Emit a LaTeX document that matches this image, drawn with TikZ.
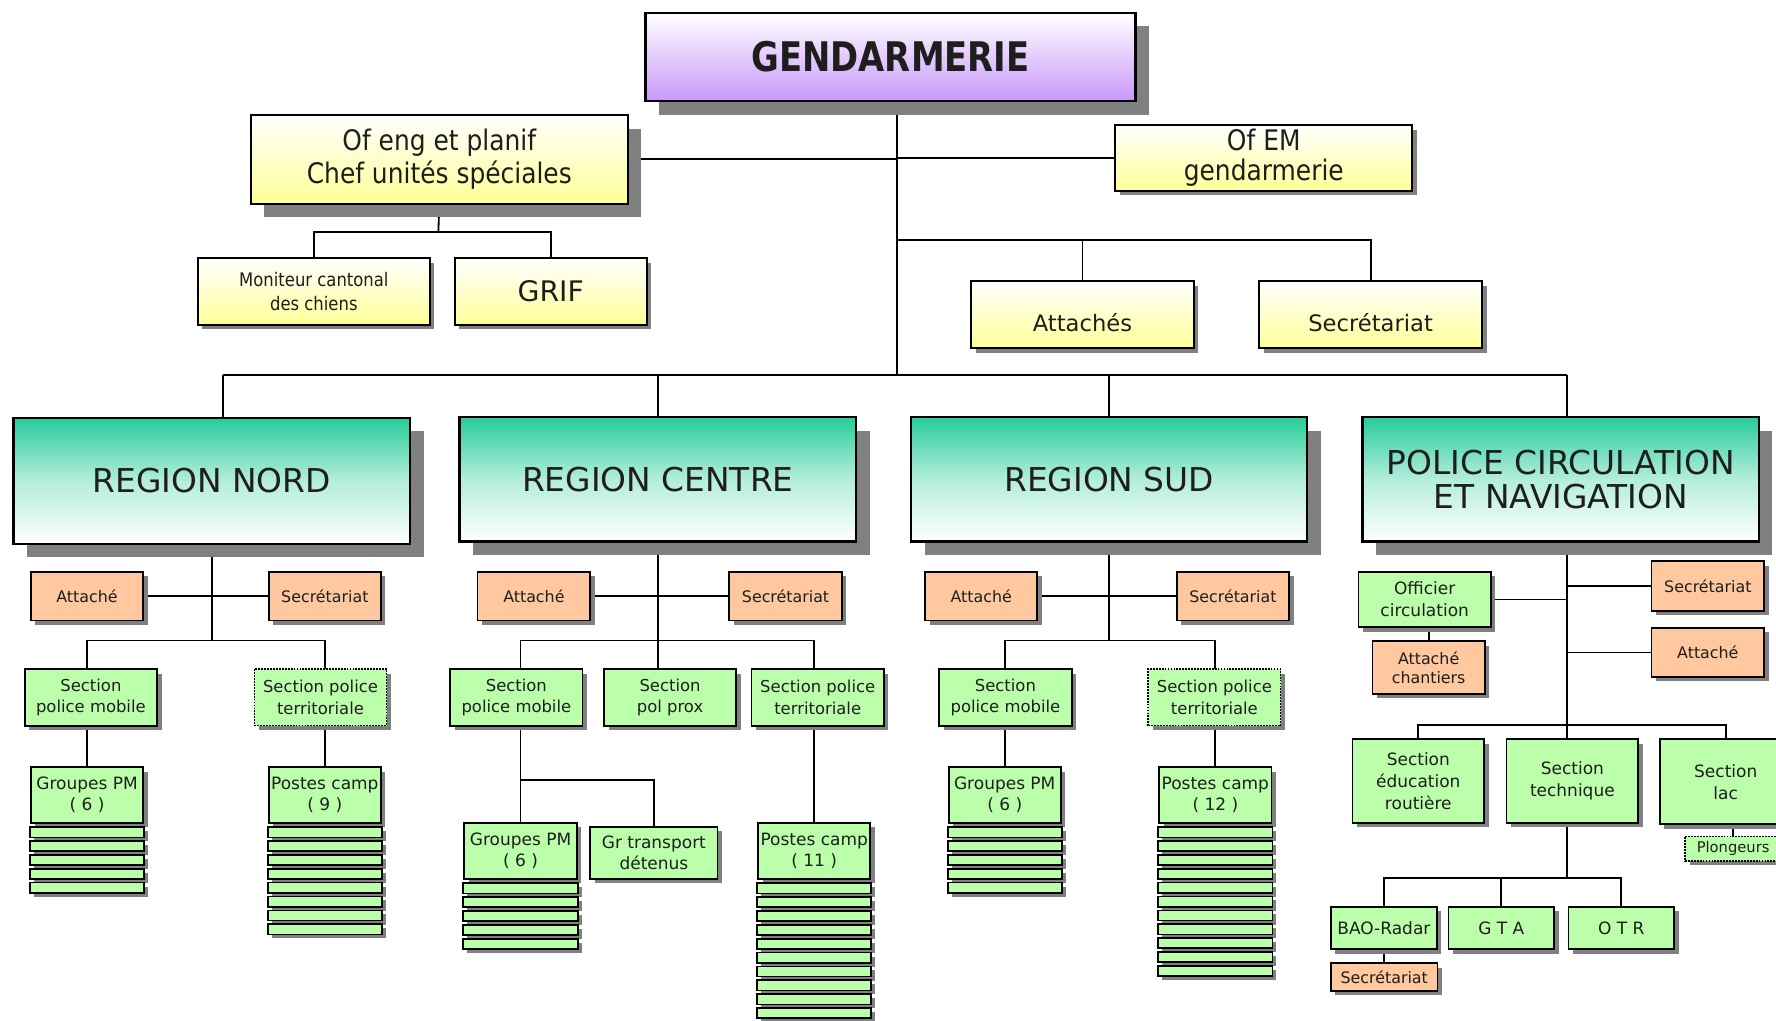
\documentclass[tikz,border=0pt]{standalone}
\usepackage{fontspec}
\setmainfont{DejaVu Sans}
\newfontfamily\condf[FakeStretch=0.88]{DejaVu Sans}
\newfontfamily\gendf[FakeStretch=0.83]{DejaVu Sans}
\usetikzlibrary{shadows,calc}
\pgfdeclarelayer{bg}
\pgfsetlayers{bg,main}
\definecolor{lav}{RGB}{200,152,250}
\definecolor{yel}{RGB}{255,255,150}
\definecolor{tealc}{RGB}{38,204,154}
\definecolor{peach}{RGB}{255,200,158}
\definecolor{grn}{RGB}{188,255,170}
\definecolor{shad}{RGB}{128,128,128}
\definecolor{ink}{RGB}{30,30,30}
\newcommand\bx[7]{\node[#1,anchor=north west,minimum width={#4pt-#2pt},minimum height={#5pt-#3pt}] (#6) at (#2,#3) {#7};}
\newcommand\stk[2]{%
  \foreach \i in {1,...,#2}{%
    \fill[shad] ($(#1.south west)+(3.5,{(\i-1)*12.24+6.7})$) rectangle ($(#1.south east)+(3.5,{(\i-1)*12.24+15.7})$);
    \draw[fill=grn,line width=1.5pt] ($(#1.south west)+(0,{(\i-1)*12.24+3.2})$) rectangle ($(#1.south east)+(0,{(\i-1)*12.24+12.2})$);
  }}
\newcommand\low[1]{\raisebox{-7pt}[\height][\depth]{#1}}
\tikzset{
  base/.style={draw, line width=1.8pt, inner sep=0pt, align=center, text=ink},
  bigsh/.style={drop shadow={shadow xshift=12pt, shadow yshift=-12pt, fill=shad, opacity=1}},
  smsh/.style={drop shadow={shadow xshift=4pt, shadow yshift=-4pt, fill=shad, opacity=1}},
  gendbox/.style={base, bigsh, top color=white, bottom color=lav, line width=2pt, font=\gendf\bfseries\fontsize{36}{40}\selectfont},
  ybig/.style={base, bigsh, top color=white, bottom color=yel, font=\condf\fontsize{25}{29.5}\selectfont},
  ybox/.style={base, smsh, top color=white, bottom color=yel},
  region/.style={base, bigsh, top color=tealc, bottom color=white, middle color=tealc!35!white, line width=2.2pt, font=\fontsize{29}{30}\selectfont},
  pbox/.style={base, smsh, fill=peach, line width=1.6pt, font=\fontsize{14}{17}\selectfont},
  gbox/.style={base, smsh, fill=grn, line width=1.6pt, font=\fontsize{14.5}{19}\selectfont},
  gdot/.style={gbox, densely dotted, line width=1.3pt},
  conn/.style={line width=1.6pt, draw=black},
}
\begin{document}
\begin{tikzpicture}[x=1pt,y=-1pt]
\useasboundingbox (0,0) rectangle (1568,901);
\clip (0,0) rectangle (1568,901);
% top level
\bx{gendbox}{569}{10.3}{1001.4}{88.3}{gend}{GENDARMERIE}
\bx{ybig}{220.5}{100.6}{553.4}{179}{ofeng}{Of eng et planif\\Chef unités spéciales}
\bx{ybox,font=\condf\fontsize{25}{26.6}\selectfont}{983.7}{109.5}{1246}{167.7}{ofem}{Of EM\\gendarmerie}
\bx{ybox,font=\condf\fontsize{16.5}{20.6}\selectfont}{173.8}{227.2}{378.6}{286}{monit}{Moniteur cantonal\\des chiens}
\bx{ybox,font=\fontsize{25}{28}\selectfont}{400.4}{227.2}{570.2}{286}{grif}{GRIF}
\bx{ybox,font=\fontsize{20}{24}\selectfont}{856.6}{247.2}{1052.9}{306.6}{att0}{\low{Attachés}}
\bx{ybox,font=\fontsize{20}{24}\selectfont}{1110.9}{247.2}{1307.5}{306.6}{sec0}{\low{Secrétariat}}
% regions
\bx{region}{10.8}{367.8}{360.8}{479}{rn}{REGION NORD}
\bx{region}{404.6}{367}{754.8}{477}{rc}{REGION CENTRE}
\bx{region}{803.4}{367}{1153}{477}{rs}{REGION SUD}
\bx{region}{1202}{367}{1551.7}{477}{pcn}{POLICE CIRCULATION\\ET NAVIGATION}
% nord
\bx{pbox}{26.4}{504}{125.7}{547}{natt}{Attaché}
\bx{pbox}{236.5}{504}{335.5}{547}{nsec}{Secrétariat}
\bx{gbox}{21}{590}{137.9}{640}{nspm}{Section\\police mobile}
\bx{gdot}{224}{590}{340.6}{640}{nspt}{Section police\\territoriale}
\bx{gbox,font=\fontsize{15}{19}\selectfont}{26.4}{676.5}{125.7}{725.5}{ngpm}{Groupes PM\\( 6 )}
\bx{gbox,font=\fontsize{15}{19}\selectfont}{236.5}{676.5}{335.5}{725.5}{npc}{Postes camp\\( 9 )}
\stk{ngpm}{5}
\stk{npc}{8}
% centre
\bx{pbox}{420.8}{504}{520.3}{547}{catt}{Attaché}
\bx{pbox}{643}{504}{742.5}{547}{csec}{Secrétariat}
\bx{gbox}{396.7}{590}{513.5}{640}{cspm}{Section\\police mobile}
\bx{gbox}{532.5}{590}{649}{640}{cpp}{Section\\pol prox}
\bx{gbox}{662.7}{590}{779.6}{640}{cspt}{Section police\\territoriale}
\bx{gbox,font=\fontsize{15}{19}\selectfont}{409}{725.7}{508.5}{775}{cgpm}{Groupes PM\\( 6 )}
\bx{gbox,font=\fontsize{15}{19}\selectfont}{520.3}{729}{632.7}{775}{cgt}{Gr transport\\détenus}
\bx{gbox,font=\fontsize{15}{19}\selectfont}{668.6}{725.7}{767.5}{775}{cpc}{Postes camp\\( 11 )}
\stk{cgpm}{5}
\stk{cpc}{10}
% sud
\bx{pbox}{816}{504}{915}{547}{satt}{Attaché}
\bx{pbox}{1038}{504}{1137.4}{547}{ssec}{Secrétariat}
\bx{gbox}{828.4}{590}{945.3}{640}{sspm}{Section\\police mobile}
\bx{gdot}{1013}{590}{1130}{640}{sspt}{Section police\\territoriale}
\bx{gbox,font=\fontsize{15}{19}\selectfont}{836.7}{676.5}{935.8}{725.5}{sgpm}{Groupes PM\\( 6 )}
\bx{gbox,font=\fontsize{15}{19}\selectfont}{1022.6}{676.5}{1121.8}{725.5}{spc}{Postes camp\\( 12 )}
\stk{sgpm}{5}
\stk{spc}{11}
% police circulation
\bx{gbox,font=\fontsize{15}{19.5}\selectfont}{1198.6}{504}{1315.4}{553}{poc}{Officier\\circulation}
\bx{pbox}{1211}{565.4}{1310}{611.8}{pac}{Attaché\\chantiers}
\bx{pbox}{1457.3}{494.8}{1556.7}{538.5}{psec}{Secrétariat}
\bx{pbox}{1457.3}{553.6}{1556.7}{596.8}{patt}{Attaché}
\bx{gbox,font=\fontsize{15}{19.5}\selectfont}{1193.3}{652}{1309.5}{725.5}{per}{Section\\éducation\\routière}
\bx{gbox,font=\fontsize{15}{19.5}\selectfont}{1329.3}{652}{1445.5}{725.5}{ptech}{Section\\technique}
\bx{gbox,font=\fontsize{15}{19.5}\selectfont}{1464.6}{652}{1581}{727}{plac}{Section\\lac}
\bx{gdot,font=\fontsize{13}{15}\selectfont}{1487}{737.7}{1572}{759.4}{plong}{Plongeurs}
\bx{gbox,font=\fontsize{15}{18}\selectfont}{1174.2}{799.9}{1267.8}{837.4}{pbao}{BAO-Radar}
\bx{gbox,font=\fontsize{15}{18}\selectfont}{1278}{799.9}{1371.3}{837.4}{pgta}{G T A}
\bx{gbox,font=\fontsize{15}{18}\selectfont}{1384}{799.9}{1477.3}{837.4}{potr}{O T R}
\bx{pbox}{1174.2}{849.7}{1268.4}{874}{pbsec}{Secrétariat}
% connectors
\begin{pgfonlayer}{bg}
\fill[white] (0,0) rectangle (1568,901);
\coordinate (T) at (792,331);
\coordinate (J1) at (387,205);
\coordinate (J2) at (792,212);
\coordinate (rnT) at (196.6,367.8);
\coordinate (pT) at (1383.7,477);
\coordinate (B) at (0,565.4);
\coordinate (cj) at (0,688.7);
\coordinate (pS) at (0,640);
\coordinate (pB) at (0,775.1);
\draw[conn] (gend.south -| T) -- (T);
\draw[conn] (ofeng.east) -- (ofeng.east -| T);
\draw[conn] (ofem.west) -- (ofem.west -| T);
\draw[conn] (ofeng.south) -- (J1);
\draw[conn] (monit.north) -- (monit.north |- J1) -- (grif.north |- J1) -- (grif.north);
\draw[conn] (J2) -- (sec0.north |- J2) -- (sec0.north);
\draw[conn] (att0.north |- J2) -- (att0.north);
\draw[conn] (rnT |- T) -- (pT |- T);
\draw[conn] (rnT |- T) -- (rnT);
\draw[conn] (rc.north |- T) -- (rc.north);
\draw[conn] (rs.north |- T) -- (rs.north);
\draw[conn] (pT |- T) -- (pT |- pcn.north);
% nord
\draw[conn] (rn.south) -- (rn.south |- B);
\draw[conn] (natt.east) -- (nsec.west);
\draw[conn] (ngpm.north) -- (ngpm.north |- B) -- (npc.north |- B) -- (npc.north);
% centre
\draw[conn] (rc.south) -- (rc.south |- cpp.north);
\draw[conn] (catt.east) -- (csec.west);
\draw[conn] (cgpm.north) -- (cgpm.north |- B) -- (cpc.north |- B) -- (cpc.north);
\draw[conn] (cgpm.north |- cj) -- (cgt.north |- cj) -- (cgt.north);
% sud
\draw[conn] (rs.south) -- (rs.south |- B);
\draw[conn] (satt.east) -- (ssec.west);
\draw[conn] (sgpm.north) -- (sgpm.north |- B) -- (spc.north |- B) -- (spc.north);
% pcn
\draw[conn] (pT) -- (pT |- pB);
\draw[conn] (poc.east) -- (poc.east -| pT);
\draw[conn] (pac.north) -- (pac.north |- poc.south);
\draw[conn] (psec.west) -- (psec.west -| pT);
\draw[conn] (patt.west) -- (patt.west -| pT);
\draw[conn] (per.north) -- (per.north |- pS) -- (plac.north |- pS) -- (plac.north);
\draw[conn] (plong.north) -- (plong.north |- plac.south);
\draw[conn] (pbao.north) -- (pbao.north |- pB) -- (potr.north |- pB) -- (potr.north);
\draw[conn] (pgta.north) -- (pgta.north |- pB);
\draw[conn] (pbsec.north) -- (pbsec.north |- pbao.south);
\end{pgfonlayer}
\end{tikzpicture}
\end{document}
